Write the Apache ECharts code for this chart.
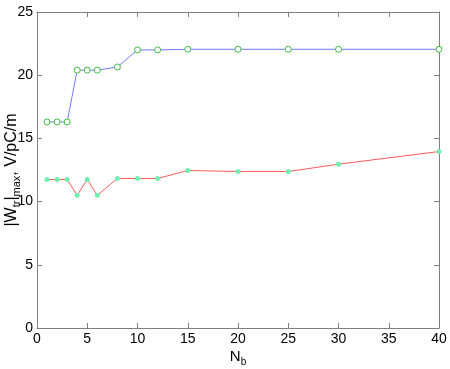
<!DOCTYPE html>
<html>
<head>
<meta charset="utf-8">
<script src="https://cdn.jsdelivr.net/npm/echarts@6/dist/echarts.min.js"></script>
<style>
	html, body { margin: 0; padding: 0; background: #fff; }
	#chart { width: 450px; height: 369px; }
</style>
</head>
<body>
<div id="chart"></div>
<script>
// bunch counts on the x axis
const nb = [1, 2, 3, 4, 5, 6, 8, 10, 12, 15, 20, 25, 30, 40]
// upper curve (blue line, circles)
const upperVals = [16.3, 16.3, 16.3, 20.4, 20.4, 20.4, 20.65, 22.0, 22.0, 22.05, 22.05, 22.05, 22.05, 22.05]
// lower curve (red line, stars)
const lowerVals = [11.75, 11.75, 11.75, 10.5, 11.75, 10.5, 11.83, 11.83, 11.83, 12.46, 12.38, 12.38, 12.96, 13.96]
const xTicks = [0, 5, 10, 15, 20, 25, 30, 35, 40]
const yTicks = [0, 5, 10, 15, 20, 25]

const font = "Liberation Sans, Arial, Helvetica, sans-serif"

const pairs = (ys) => nb.map((x, i) => [x, ys[i]])

const chart = echarts.init(document.getElementById("chart"))

const axisCommon = {
	axisLine: { show: true, onZero: false, lineStyle: { color: "#808080", width: 1 } },
	axisTick: { show: true, inside: true, length: 5, lineStyle: { color: "#808080" } },
	splitLine: { show: false }
}

chart.setOption({
	animation: false,
	grid: { left: 37, right: 11, top: 12, bottom: 41, containLabel: false, outerBoundsMode: "none" },
	xAxis: [
		{
			...axisCommon,
			type: "value",
			min: xTicks[0],
			max: xTicks[xTicks.length - 1],
			interval: 5,
			axisLabel: { color: "#000", fontSize: 14, fontFamily: font, margin: 4 },
			name: "{n|N}{s|b}",
			nameLocation: "middle",
			nameGap: 19,
			nameMoveOverlap: false,
			nameTextStyle: {
				rich: {
					n: { fontSize: 15, fontFamily: font, color: "#000" },
					s: { fontSize: 10, fontFamily: font, color: "#000", padding: [10, 0, 0, 0] }
				}
			}
		},
		{
			...axisCommon,
			type: "value",
			position: "top",
			min: xTicks[0],
			max: xTicks[xTicks.length - 1],
			interval: 5,
			axisLabel: { show: false }
		}
	],
	yAxis: [
		{
			...axisCommon,
			type: "value",
			min: yTicks[0],
			max: yTicks[yTicks.length - 1],
			interval: 5,
			axisLabel: { color: "#000", fontSize: 14, fontFamily: font, margin: 4 },
			name: "{n||W}{s|tr}{n||}{s|max}{n|, V/pC/m}",
			nameLocation: "middle",
			nameGap: 17,
			nameMoveOverlap: false,
			nameRotate: 90,
			nameTextStyle: {
				rich: {
					n: { fontSize: 16, fontFamily: font, color: "#000" },
					s: { fontSize: 11, fontFamily: font, color: "#000", padding: [0, 0, -9, 0] }
				}
			}
		},
		{
			...axisCommon,
			type: "value",
			position: "right",
			min: yTicks[0],
			max: yTicks[yTicks.length - 1],
			interval: 5,
			axisLabel: { show: false }
		}
	],
	series: [
		{
			name: "upper",
			type: "line",
			data: pairs(upperVals),
			symbol: "circle",
			symbolSize: 6,
			lineStyle: { color: "#6f7dff", width: 1 },
			itemStyle: { color: "#ffffff", borderColor: "#3dbb3d", borderWidth: 1 }
		},
		{
			name: "lower",
			type: "line",
			data: pairs(lowerVals),
			symbol: "circle",
			symbolSize: 5,
			lineStyle: { color: "#ff5a5a", width: 1 },
			itemStyle: { color: "#6ff0b0" }
		}
	]
})
</script>
</body>
</html>
